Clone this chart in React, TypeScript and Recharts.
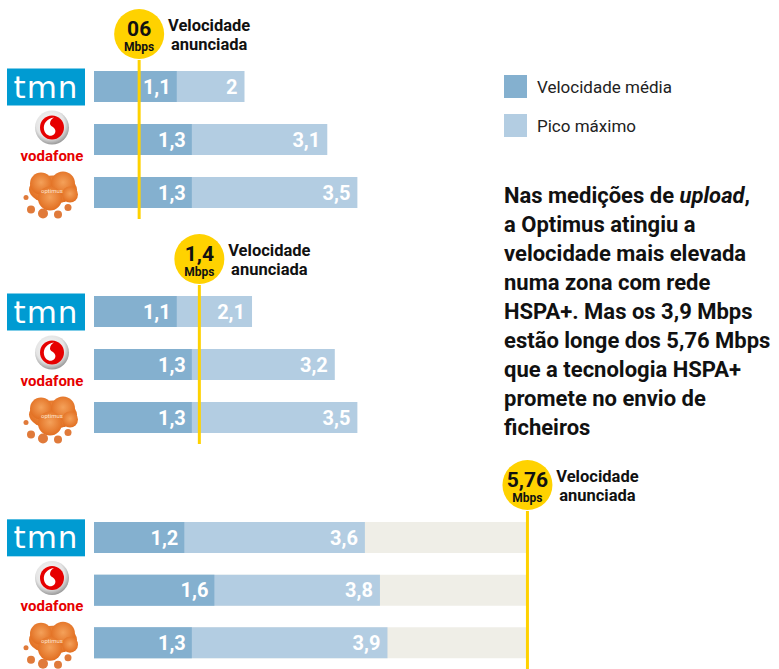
import { BarChart, Bar, XAxis, YAxis, ReferenceLine, LabelList } from 'recharts';

const operators = ['tmn', 'vodafone', 'optimus'];
const advertised = [0.6, 1.4, 5.76];
const advertisedLabels = ['06', '1,4', '5,76'];
const mediaValues = [
  [1.1, 1.3, 1.3],
  [1.1, 1.3, 1.3],
  [1.2, 1.6, 1.3],
];
const picoValues = [
  [2, 3.1, 3.5],
  [2.1, 3.2, 3.5],
  [3.6, 3.8, 3.9],
];

const groupTops = [0, 225, 451];
const groupHeights = [219, 219, 218];

const C_MEDIA = '#84b0cf';
const C_PICO = '#b3cde2';
const C_BACK = '#efeee7';
const C_YELLOW = '#ffd200';
const FONT = 'Roboto, "Open Sans", sans-serif';

const fmt = (v: number) => String(v).replace('.', ',');

function LogoTick({ y, payload }: { y?: number; payload?: { value: string } }) {
  const cy = y ?? 0;
  const name = payload?.value;
  if (name === 'tmn') {
    return (
      <g>
        <rect x={7} y={cy - 18} width={78} height={37} fill="#009bd2" />
        <text x={46} y={cy + 11} textAnchor="middle" fill="#fff" fontSize={31}
          fontFamily='"DejaVu Sans", sans-serif' letterSpacing={1}>tmn</text>
      </g>
    );
  }
  if (name === 'vodafone') {
    return (
      <g>
        <defs>
          <radialGradient id="vfring" cx="45%" cy="40%" r="60%">
            <stop offset="0%" stopColor="#ffffff" />
            <stop offset="70%" stopColor="#e4e4e4" />
            <stop offset="100%" stopColor="#9a9a9a" />
          </radialGradient>
        </defs>
        <circle cx={52} cy={cy - 12} r={17} fill="url(#vfring)" />
        <circle cx={52} cy={cy - 12} r={12} fill="#e60000" />
        <path d={`M ${54} ${cy - 22} c -7 1 -11 6 -10 12 c 1 5 5 7 8 6 c 3 -1 4 -4 3 -6 c -1 -3 -5 -3 -5 -6 c 0 -3 2 -5 4 -6 z`} fill="#fff" />
        <text x={52} y={cy + 21} textAnchor="middle" fill="#e60000" fontSize={15}
          fontWeight={700} fontFamily={FONT}>vodafone</text>
      </g>
    );
  }
  return (
    <g>
      <defs>
        <radialGradient id="optblob" cx="50%" cy="45%" r="60%">
          <stop offset="0%" stopColor="#f4a15a" />
          <stop offset="100%" stopColor="#e06a1c" />
        </radialGradient>
      </defs>
      <g fill="url(#optblob)">
        <ellipse cx={53} cy={cy - 3} rx={24} ry={14} />
        <circle cx={41} cy={cy - 9} r={11} />
        <circle cx={63} cy={cy - 9} r={12} />
        <circle cx={50} cy={cy + 6} r={12} />
        <circle cx={70} cy={cy + 2} r={8} />
      </g>
      <g fill="#e07a3a">
        <circle cx={31} cy={cy + 17} r={4} />
        <circle cx={43} cy={cy + 21} r={5} />
        <circle cx={58} cy={cy + 22} r={4} />
        <circle cx={68} cy={cy + 15} r={3.5} />
        <circle cx={26} cy={cy + 5} r={2.5} />
      </g>
      <text x={52} y={cy} textAnchor="middle" fill="#fde3cc" fontSize={6}
        fontFamily={FONT}>optimus</text>
    </g>
  );
}

function AdvBadge({ viewBox, text }: { viewBox?: { x: number; y: number }; text: string }) {
  if (!viewBox) return null;
  const cx = viewBox.x;
  const r = 25;
  const cy = viewBox.y - r - 1;
  const tx = cx + r + 45;
  return (
    <g fontFamily={FONT} fontWeight={700}>
      <circle cx={cx} cy={cy} r={r} fill={C_YELLOW} />
      <text x={cx} y={cy + 2} textAnchor="middle" fontSize={21} fill="#111">{text}</text>
      <text x={cx} y={cy + 17} textAnchor="middle" fontSize={12} fill="#111">Mbps</text>
      <text x={tx} y={cy - 3} textAnchor="middle" fontSize={16.5} fill="#111">Velocidade</text>
      <text x={tx} y={cy + 16} textAnchor="middle" fontSize={16.5} fill="#111">anunciada</text>
    </g>
  );
}

function Group({ idx }: { idx: number }) {
  const data = operators.map((op, i) => ({
    op,
    back: advertised[idx],
    pico: picoValues[idx][i],
    media: mediaValues[idx][i],
  }));
  return (
    <div style={{ position: 'absolute', left: 0, top: groupTops[idx] }}>
      <BarChart
        width={779}
        height={groupHeights[idx]}
        data={data}
        layout="vertical"
        margin={{ top: 60, right: 83, bottom: 0, left: 0 }}
        barGap={-31}
        barCategoryGap={0}
      >
        <XAxis type="number" domain={[0, 8]} hide />
        <YAxis type="category" dataKey="op" width={94} axisLine={false} tickLine={false}
          tick={<LogoTick />} interval={0} />
        <Bar dataKey="back" fill={C_BACK} barSize={31} isAnimationActive={false} />
        <Bar dataKey="pico" fill={C_PICO} barSize={31} isAnimationActive={false}>
          <LabelList dataKey="pico" position="insideRight" offset={7} fill="#fff"
            fontSize={20} fontWeight={700} fontFamily={FONT} formatter={(v: number) => fmt(v)} />
        </Bar>
        <Bar dataKey="media" fill={C_MEDIA} barSize={31} isAnimationActive={false}>
          <LabelList dataKey="media" position="insideRight" offset={6} fill="#fff"
            fontSize={20} fontWeight={700} fontFamily={FONT} formatter={(v: number) => fmt(v)} />
        </Bar>
        <ReferenceLine x={advertised[idx]} stroke={C_YELLOW} strokeWidth={3}
          label={(p: any) => <AdvBadge viewBox={p.viewBox} text={advertisedLabels[idx]} />} />
      </BarChart>
    </div>
  );
}

export default function App() {
  return (
    <div style={{ position: 'absolute', left: 0, top: 0, width: 779, height: 669, background: '#fff', fontFamily: FONT }}>
      {[0, 1, 2].map((i) => <Group key={i} idx={i} />)}

      <div style={{ position: 'absolute', left: 504, top: 75, display: 'flex', alignItems: 'center' }}>
        <span style={{ width: 23, height: 23, background: C_MEDIA, display: 'inline-block' }} />
        <span style={{ marginLeft: 10, fontSize: 17, color: '#222' }}>Velocidade média</span>
      </div>
      <div style={{ position: 'absolute', left: 504, top: 114, display: 'flex', alignItems: 'center' }}>
        <span style={{ width: 23, height: 23, background: C_PICO, display: 'inline-block' }} />
        <span style={{ marginLeft: 10, fontSize: 17, color: '#222' }}>Pico máximo</span>
      </div>

      <div style={{
        position: 'absolute', left: 504, top: 181, fontSize: 22, fontWeight: 700,
        lineHeight: '29px', color: '#111', whiteSpace: 'nowrap',
      }}>
        Nas medições de <i>upload</i>,<br />
        a Optimus atingiu a<br />
        velocidade mais elevada<br />
        numa zona com rede<br />
        HSPA+. Mas os 3,9 Mbps<br />
        estão longe dos 5,76 Mbps<br />
        que a tecnologia HSPA+<br />
        promete no envio de<br />
        ficheiros
      </div>
    </div>
  );
}
